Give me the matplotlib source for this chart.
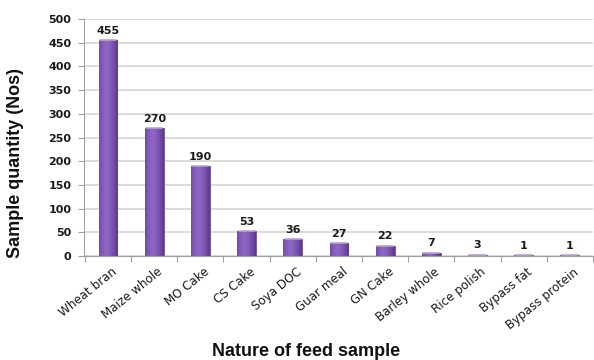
import numpy as np
import matplotlib.pyplot as plt

# feed samples received
feeds = ['Wheat bran', 'Maize whole', 'MO Cake', 'CS Cake', 'Soya DOC', 'Guar meal',
         'GN Cake', 'Barley whole', 'Rice polish', 'Bypass fat', 'Bypass protein']
counts = [455, 270, 190, 53, 36, 27, 22, 7, 3, 1, 1]
yticks = [0, 50, 100, 150, 200, 250, 300, 350, 400, 450, 500]

fig = plt.figure(figsize=(5.94, 3.6), dpi=100)
ax = fig.add_axes([0.1414, 0.289, 0.857, 0.658])

x = np.arange(len(feeds))
bw = 0.41

# cylinder-like shading across each bar
grad = np.linspace(0, 1, 64)
light = np.array([0.56, 0.40, 0.77])
dark = np.array([0.36, 0.22, 0.56])
t = np.clip(np.abs(grad - 0.4) / 0.6, 0, 1) ** 1.4
img = (light[None, :] * (1 - t[:, None]) + dark[None, :] * t[:, None])[None, :, :]

bars = ax.bar(x, counts, width=bw, color='#7a52ad', edgecolor='#5d3d8a', linewidth=0.5, zorder=2)
for b in bars:
    x0, y0 = b.get_x(), b.get_y()
    w, h = b.get_width(), b.get_height()
    im = ax.imshow(img, extent=[x0, x0 + w, y0, y0 + h], aspect='auto', zorder=2.1,
                   interpolation='bilinear')
    im.set_clip_path(b)
    # lighter rim on top
    ax.plot([x0 + 0.03, x0 + w - 0.03], [y0 + h, y0 + h], color='#b9a0dc', lw=1.2,
            solid_capstyle='round', zorder=2.2)

for xi, v in zip(x, counts):
    ax.text(xi, v + 9, str(v), ha='center', va='bottom', fontsize=8, fontweight='bold',
            family='DejaVu Sans', color='#1a1a1a')

ax.set_xlim(-0.52, len(feeds) - 0.5)
ax.set_ylim(0, 500)
ax.set_yticks(yticks)
ax.set_yticklabels([str(t) for t in yticks], fontsize=8, fontweight='bold', family='DejaVu Sans',
                   color='#1a1a1a')
ax.yaxis.grid(True, color='#d6d6d6', lw=1.2, zorder=0)
ax.set_axisbelow(True)

ax.set_xticks(np.arange(len(feeds) + 1) - 0.5, minor=False)
ax.set_xticklabels([])
ax.tick_params(axis='x', length=4, color='#a0a0a0', width=0.8)
ax.tick_params(axis='y', length=4, color='#a0a0a0', width=0.8, pad=5)

for xi, name in zip(x, feeds):
    ax.text(xi + 0.06, -20, name, rotation=39, ha='right', va='top', rotation_mode='anchor',
            fontsize=8.6, family='DejaVu Sans', color='#1a1a1a')

for s in ['top', 'right']:
    ax.spines[s].set_visible(False)
ax.spines['left'].set_color('#a0a0a0')
ax.spines['bottom'].set_color('#a0a0a0')

fig.text(0.026, 0.547, 'Sample quantity (Nos)', rotation=90, ha='center', va='center',
         fontsize=13, fontweight='bold', family='Liberation Sans', color='#111111')
fig.text(0.515, 0.025, 'Nature of feed sample', ha='center', va='center',
         fontsize=13, fontweight='bold', family='Liberation Sans', color='#111111')

fig.savefig('out.png', dpi=100)
